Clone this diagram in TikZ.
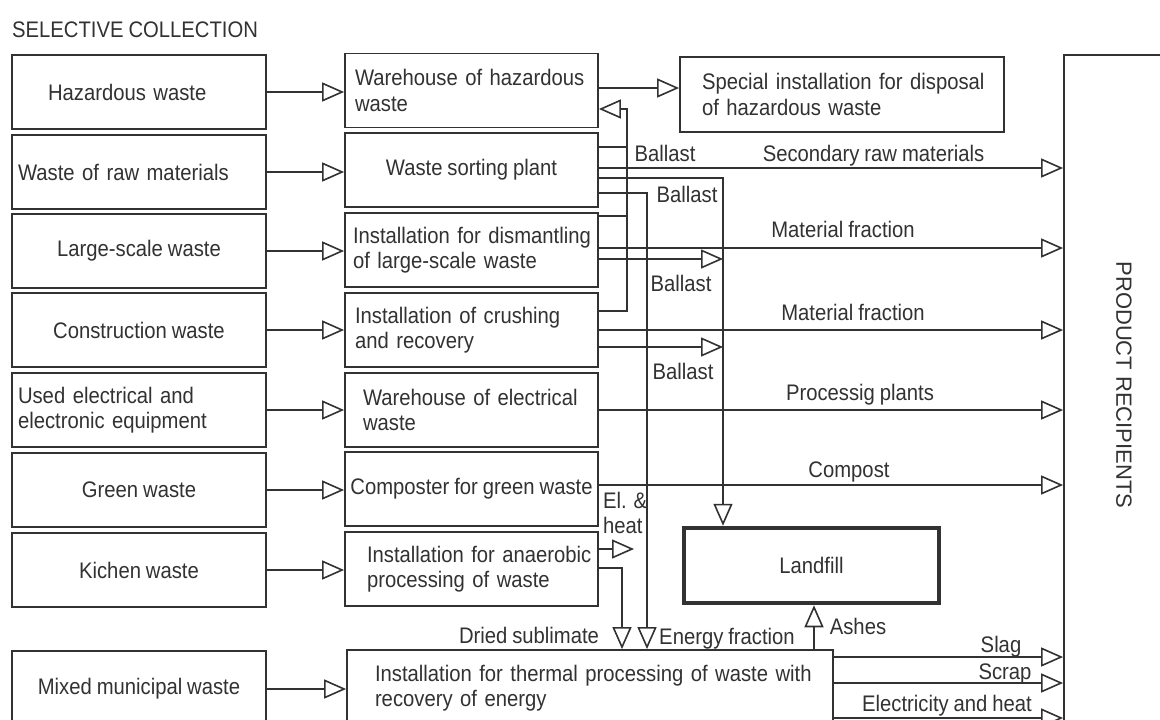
\documentclass[tikz,border=0pt]{standalone}
\usepackage{fontspec}
\setmainfont{Liberation Sans}[FakeStretch=0.9, WordSpace=0.88]
\newfontfamily\rotfont{Liberation Sans}
\usetikzlibrary{arrows.meta}
\definecolor{lc}{RGB}{50,50,50}
\newcommand\oneline[1]{\mbox{#1}}
\tikzset{
  box/.style={draw=lc, line width=1.8pt, inner ysep=0pt, minimum height=74pt},
  lbox/.style={box, minimum width=254pt},
  mbox/.style={box, minimum width=253pt},
  wire/.style={draw=lc, line width=1.8pt},
  arr/.style={wire, -{Triangle[open, length=22pt, width=19pt, line width=1.6pt]}},
  lbl/.style={anchor=base, inner sep=0pt},
}
\begin{document}
\begin{tikzpicture}[x=1pt, y=-1pt, color=lc, font=\fontsize{22.5}{25.5}\selectfont]
\fill[white] (0,0) rectangle (1160,720);
\useasboundingbox (0,0) rectangle (1160,720);
\clip (0,0) rectangle (1160,720);

\node[anchor=base west, inner sep=0pt] (title) at (12,37) {SELECTIVE COLLECTION};

% left column
\node[lbox, align=left, inner xsep=36pt, text width=182pt] (hz) at (139,92) {\oneline{Hazardous waste}};
\node[lbox, align=left, inner xsep=6pt, text width=242pt] (raw) at (139,172) {\oneline{Waste of raw materials}};
\node[lbox] (large) at (139,251) {Large-scale waste};
\node[lbox] (constr) at (139,330) {Construction waste};
\node[lbox, align=left, inner xsep=6pt, text width=242pt] (elec) at (139,410) {\oneline{Used electrical and}\\\oneline{electronic equipment}};
\node[lbox] (green) at (139,490) {Green waste};
\node[lbox] (kitchen) at (139,570) {Kichen waste};
\node[lbox, minimum height=76pt] (mixed) at (139,689) {Mixed municipal waste};

% middle column
\node[mbox, align=left, inner xsep=10pt, text width=233pt] (whz) at (471.5,90.5) {\oneline{Warehouse of hazardous}\\\oneline{waste}};
\node[mbox] (sort) at (471.5,170) {Waste sorting plant};
\node[mbox, align=left, inner xsep=8pt, text width=237pt] (dism) at (471.5,250) {\oneline{Installation for dismantling}\\\oneline{of large-scale waste}};
\node[mbox, align=left, inner xsep=10pt, text width=233pt] (crush) at (471.5,330) {\oneline{Installation of crushing}\\\oneline{and recovery}};
\node[mbox, align=left, inner xsep=18pt, text width=217pt] (welec) at (471.5,410) {\oneline{Warehouse of electrical}\\\oneline{waste}};
\node[mbox, inner xsep=1pt] (comp) at (471.5,489) {Composter for green waste};
\node[mbox, align=left, inner xsep=22pt, text width=209pt] (anaer) at (471.5,569) {\oneline{Installation for anaerobic}\\\oneline{processing of waste}};
\node[box, minimum width=486pt, minimum height=76pt, align=left, inner xsep=28pt, text width=430pt] (therm) at (590,688) {\oneline{Installation for thermal processing of waste with}\\\oneline{recovery of energy}};

% right side
\node[box, minimum width=324pt, minimum height=75pt, align=left, inner xsep=22pt, text width=280pt] (spec) at (842,94.5) {\oneline{Special installation for disposal}\\\oneline{of hazardous waste}};
\node[box, line width=4.5pt, minimum width=255pt, minimum height=75pt] (land) at (811.5,565.5) {Landfill};
\node[draw=lc, line width=1.8pt, minimum width=200pt, minimum height=900pt, inner sep=0pt] (rec) at (1164,505) {};
\node[rotate=-90, inner sep=0pt, font=\rotfont\fontsize{22}{26}\selectfont] (rectxt) at (1124,385) {PRODUCT RECIPIENTS};

% inputs
\foreach \a/\b in {hz/whz, raw/sort, large/dism, constr/crush, elec/welec, green/comp, kitchen/anaer, mixed/therm}
  \draw[arr] (\a.east) -- (\a.east -| \b.west);

% hazardous
\draw[arr] (whz.east |- 0,88) -- (spec.west |- 0,88);

% ballast return to hazardous warehouse
\draw[arr] (crush.east |- 0,311) -- (627,311) -- (627,109) -- (whz.east |- 0,109);
\draw[wire] (sort.east |- 0,147) -- (627,147);
\draw[wire] (dism.east |- 0,216) -- (627,216);
\node[lbl] (b1) at (665,161) {Ballast};

% sorting plant
\draw[arr] (sort.east |- 0,168) -- (rec.west |- 0,168);
\node[lbl] (l1) at (873.5,161) {Secondary raw materials};
\draw[arr] (sort.east |- 0,178) -- (723,178) -- (land.north -| 723,0);
\draw[arr] (sort.east |- 0,193) -- (647,193) -- (therm.north -| 647,0);
\node[lbl] (b2) at (687,202) {Ballast};

% dismantling
\draw[arr] (dism.east |- 0,248) -- (rec.west |- 0,248);
\node[lbl] (l2) at (843,237) {Material fraction};
\draw[arr] (dism.east |- 0,259) -- (723,259);
\node[lbl] (b3) at (681,291) {Ballast};

% crushing
\draw[arr] (crush.east |- 0,330) -- (rec.west |- 0,330);
\node[lbl] (l3) at (853,320) {Material fraction};
\draw[arr] (crush.east |- 0,347) -- (723,347);
\node[lbl] (b4) at (683,379) {Ballast};

% electrical
\draw[arr] (welec.east |- 0,410) -- (rec.west |- 0,410);
\node[lbl] (l4) at (860,400) {Processig plants};

% compost
\draw[arr] (comp.east |- 0,485) -- (rec.west |- 0,485);
\node[lbl] (l5) at (849,477) {Compost};

% anaerobic
\draw[arr] (anaer.east |- 0,549) -- (634,549);
\node[anchor=base west, inner sep=0pt] (el) at (603,508) {El. \&};
\node[anchor=base west, inner sep=0pt] (heat) at (603,533) {heat};
\draw[arr] (anaer.east |- 0,568) -- (622,568) -- (therm.north -| 622,0);
\node[lbl] (ds) at (529,643) {Dried sublimate};
\node[lbl] (ef) at (727,644) {Energy fraction};

% thermal
\draw[arr] (therm.north -| 814,0) -- (land.south -| 814,0);
\node[lbl] (ash) at (858,634) {Ashes};
\draw[arr] (therm.east |- 0,657) -- (rec.west |- 0,657);
\node[lbl] (sl) at (1001,652) {Slag};
\draw[arr] (therm.east |- 0,683) -- (rec.west |- 0,683);
\node[lbl] (sc) at (1005,679) {Scrap};
\draw[arr] (therm.east |- 0,718) -- (rec.west |- 0,718);
\node[lbl] (eh) at (947,711) {Electricity and heat};
\end{tikzpicture}
\end{document}
